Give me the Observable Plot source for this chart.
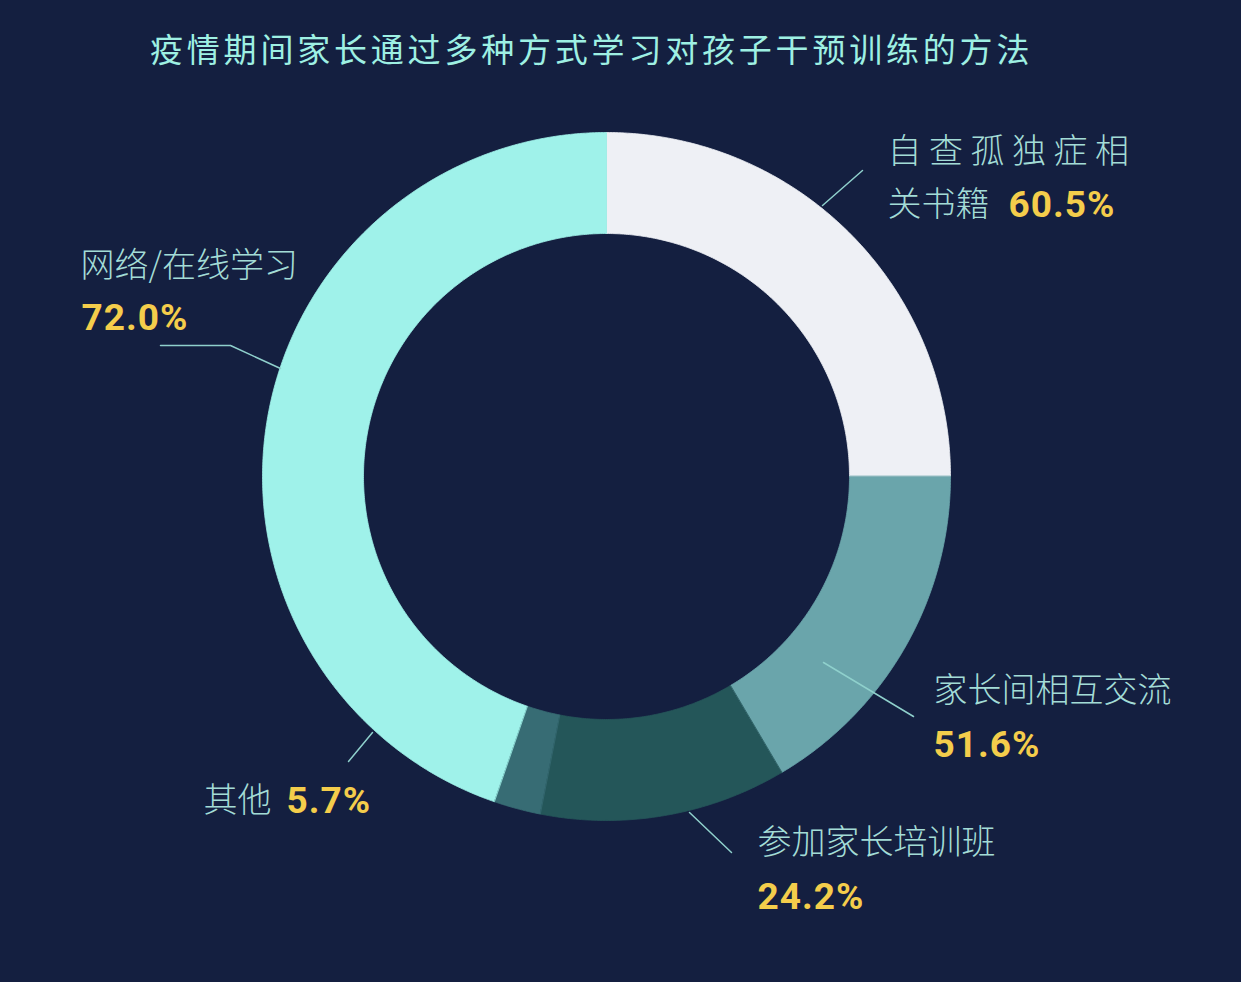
<!DOCTYPE html>
<html><head><meta charset="utf-8">
<script src="https://cdn.jsdelivr.net/npm/d3@7"></script>
<script src="https://cdn.jsdelivr.net/npm/@observablehq/plot@0.6"></script>
<style>
html,body{margin:0;padding:0;background:#141f40;width:1241px;height:982px;overflow:hidden}
#title{height:64px;padding:32px 0 0 150px;font-family:"Noto Sans CJK SC";font-weight:400;font-size:33px;line-height:33px;letter-spacing:3.8px;color:#9ef0e3;white-space:nowrap}
#chart svg{display:block}
</style></head><body>
<div id="title">疫情期间家长通过多种方式学习对孩子干预训练的方法</div>
<div id="chart"></div>
<script>
// ---- data ----
const categories = ["自查孤独症相关书籍", "家长间相互交流", "参加家长培训班", "其他", "网络/在线学习"];
const percentValues = [60.5, 51.6, 24.2, 5.7, 72.0];
// share of the ring each slice occupies as drawn in the picture (in % of the full circle)
const sliceShare = [25.0, 16.5, 11.6, 2.2, 44.7];
const labelLines = [["自 查 孤 独 症 相", "关书籍"], ["家长间相互交流"], ["参加家长培训班"], ["其他"], ["网络/在线学习"]];
const sliceColors = ["#eef0f5", "#6aa5ab", "#245659", "#376c74", "#9ff2ea"];

// ---- layout (page pixels) ----
const W = 1241, H = 982, TOP = 96;
const cx = 606, cy = 476, rOuter = 344, rInner = 243;
const labelLayout = [
  {lines: [[887, 152], [887, 205]], pct: [1008, 205], leader: [[822, 205], [862, 170]]},
  {lines: [[933, 691]], pct: [933, 745], leader: [[823, 662], [913, 716]]},
  {lines: [[757, 843]], pct: [757, 897], leader: [[689, 812], [731, 852]]},
  {lines: [[203, 801]], pct: [286, 801], leader: [[372, 732], [348, 761]]},
  {lines: [[80, 266]], pct: [81, 318], leader: [[280, 368], [230, 345], [160, 345]]}
];

// ---- ring geometry from the slice shares ----
const arcs = d3.pie().sort(null).value(d => d)(sliceShare);
const ringPts = [];
arcs.forEach((a, i) => {
  const n = Math.max(2, Math.ceil((a.endAngle - a.startAngle) / (Math.PI / 360)));
  const pts = [];
  for (let k = 0; k <= n; k++) {
    const t = a.startAngle + (a.endAngle - a.startAngle) * k / n;
    pts.push([cx + rOuter * Math.sin(t), cy - rOuter * Math.cos(t)]);
  }
  for (let k = n; k >= 0; k--) {
    const t = a.startAngle + (a.endAngle - a.startAngle) * k / n;
    pts.push([cx + rInner * Math.sin(t), cy - rInner * Math.cos(t)]);
  }
  pts.forEach(p => ringPts.push({cat: categories[i], x: p[0], y: p[1]}));
});

const textRows = [];
const pctRows = [];
const leaderRows = [];
categories.forEach((c, i) => {
  const L = labelLayout[i];
  labelLines[i].forEach((t, j) => textRows.push({text: t, x: L.lines[j][0], y: L.lines[j][1]}));
  pctRows.push({text: percentValues[i].toFixed(1) + "%", x: L.pct[0], y: L.pct[1]});
  L.leader.forEach(p => leaderRows.push({cat: c, x: p[0], y: p[1]}));
});

const chart = Plot.plot({
  width: W, height: H - TOP, margin: 0,
  x: {domain: [0, W], range: [0, W], axis: null},
  y: {domain: [TOP, H], range: [0, H - TOP], axis: null},
  color: {domain: categories, range: sliceColors},
  style: {background: "transparent", overflow: "visible"},
  marks: [
    Plot.line(ringPts, {x: "x", y: "y", z: "cat", fill: "cat", stroke: "cat", strokeWidth: 0.8, curve: "linear-closed"}),
    Plot.line(leaderRows, {x: "x", y: "y", z: "cat", stroke: "#8fd0cc", strokeWidth: 1.5}),
    Plot.text(textRows, {x: "x", y: "y", text: "text", fill: "#a3dcd6", fontSize: 34, fontFamily: "Noto Sans CJK SC", fontWeight: 300, textAnchor: "start", lineAnchor: "middle"}),
    Plot.text(pctRows, {x: "x", y: "y", text: "text", fill: "#f4cd4b", fontSize: 37, fontFamily: "Roboto", fontWeight: 700, textAnchor: "start", lineAnchor: "middle", className: "pct"})
  ]
});
document.getElementById("chart").appendChild(chart);
</script>
<style>.pct text{letter-spacing:1px}</style>
</body></html>
